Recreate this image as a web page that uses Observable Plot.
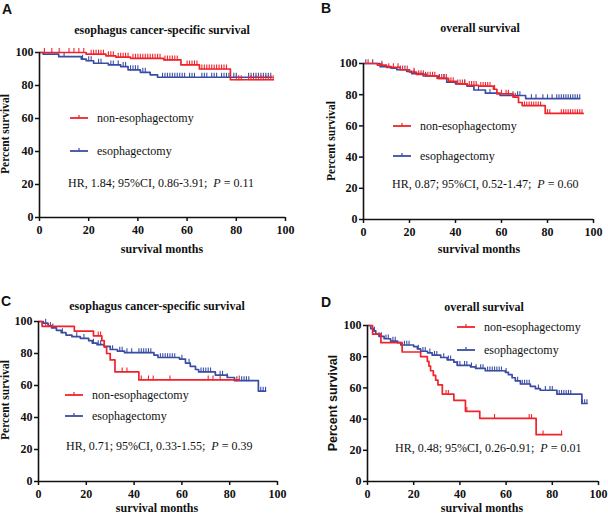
<!DOCTYPE html>
<html><head><meta charset="utf-8">
<script src="https://cdn.jsdelivr.net/npm/d3@7"></script>
<script src="https://cdn.jsdelivr.net/npm/@observablehq/plot@0.6"></script>
<style>
body{margin:0;background:#fff;}
#wrap{position:relative;width:608px;height:516px;overflow:hidden;font-family:"Liberation Serif","Times New Roman",serif;color:#111;}
.abs{position:absolute;white-space:nowrap;line-height:1;}
.letter{font-family:"Liberation Sans",Arial,sans-serif;font-weight:bold;font-size:14px;}
.title{font-weight:bold;font-size:12px;transform:translate(-50%,-50%);}
.xlab{font-weight:bold;font-size:12px;transform:translate(-50%,-50%);}
.ylab{font-weight:bold;font-size:11.5px;transform:translate(-50%,-50%) rotate(-90deg);}
.ylab.sans{font-family:"Liberation Sans",Arial,sans-serif;font-size:12.5px;}
.leg{font-size:12px;transform:translateY(-50%);}
.hr{font-size:12px;transform:translateY(-50%);}
.plot{position:absolute;}
.plot text{font-family:"Liberation Serif","Times New Roman",serif;}
</style>
</head><body>
<div id="wrap"></div>
<script>
const RED = "#f0232b", BLUE = "#3a4da5";
const xTicks = [0, 20, 40, 60, 80, 100];
const yTicks = [0, 20, 40, 60, 80, 100];
const seriesNames = ["non-esophagectomy", "esophagectomy"];

// Panel A: esophagus cancer-specific survival (upper)
const A_non_t = [0, 19, 27, 31, 37, 50.5, 57.5, 65, 77.6];
const A_non_s = [100, 99, 98, 97.2, 96.5, 95.5, 92.5, 90, 83.5];
const A_non_end = 95;
const A_non_cens = [2,5,8,12,14,16,18,21,22,23,24,25,26,28,29,30,32,33,34,35,36,38,39,40,41,42,43,44,45,46,47,48,49,51,52,53,54,55,56,60,61,62,63,64,66,67,68,69,70,71,72,73,74,75,76,80,81,82,85,86,87,88,89,90,91,92,93,94,95];
const A_eso_t = [0, 1.5, 7.8, 17, 19, 22, 28, 33, 36, 41, 45, 48];
const A_eso_s = [100, 99, 97.5, 96, 95, 93.5, 92.5, 91.5, 89.5, 88, 86.5, 85];
const A_eso_end = 94.5;
const A_eso_cens = [10,17.5,20,21,24,25,29,30,32,34,35,37,38,39,40,42,43,50,51,52,53,54,55,56,57,58,59,61,62,63,66,67,68,70,71,72,74,75,76,77,79,80,85,86,87,88,89,90,91,92,93,94];

// Panel B: overall survival (upper)
const B_non_t = [0, 6, 10, 16, 20, 23, 27.5, 32, 37, 40.5, 45, 50, 56.5, 58, 65, 67.4, 69, 79];
const B_non_s = [100, 99, 97.5, 96, 94.5, 93, 92, 90.5, 88.5, 87, 86, 85.5, 83.5, 80.5, 78.5, 75, 73, 68];
const B_non_end = 95.5;
const B_non_cens = [2,8,11,13,15,17,19,22,24,25,26,28,29,30,31,33,34,35,36,38,39,42,43,44,46,47,48,49,51,52,53,54,55,57,60,62,63,66,70,71,72,73,74,75,76,77,80,81,86,87,88,89,90,91,92,93,94,95];
const B_eso_t = [0, 7.2, 12, 14.5, 18.8, 21, 26, 32.6, 36.2, 40, 45, 48, 53, 59.4, 70.5];
const B_eso_s = [100, 98, 97, 96, 95, 93.5, 92, 90.5, 88, 87, 85.5, 83, 81, 79.5, 77.5];
const B_eso_end = 94;
const B_eso_cens = [1,4,8,16,18,22,27,33,35,41,44,50,55,63,65,67,68,73,75,78,80,82,84,85,86,87,88,89,90,91,92,93,94];

// Panel C: esophagus cancer-specific survival (lower)
const C_non_t = [0, 1.5, 15, 23, 26.5, 27.5, 28.5, 30, 32, 42];
const C_non_s = [100, 97, 94, 91, 88, 84, 80, 76, 68.5, 63.5];
const C_non_end = 84;
const C_non_cens = [3,5,25,26,35,37,43,46,48,55,71,73,76,84];
const C_eso_t = [0, 2, 4, 5.5, 7.5, 9.5, 11.5, 14, 17.5, 21, 22.5, 24.5, 27.5, 30, 33, 36, 48.3, 50, 59, 61.5, 63.5, 65.7, 67, 74, 79, 82, 92];
const C_eso_s = [100, 99, 97.5, 96, 94.5, 93, 91.5, 90.5, 89.5, 88, 86.5, 85.5, 84.5, 82.5, 81.5, 80.5, 79, 77.5, 76.5, 74, 72, 70, 68.5, 66.5, 65, 63, 56.5];
const C_eso_end = 95;
const C_eso_cens = [3,6,10,16,19,23,25,26,31,34,35,37,39,42,43,44,45,46,47,51,52,53,54,55,56,57,60,63,68,69,70,71,72,76,77,79,83,85,86,87,88,93,94,95];

// Panel D: overall survival (lower)
const D_non_t = [0, 2.2, 5.8, 15, 23, 25.9, 26.6, 27.3, 28.5, 29.5, 30.5, 32.4, 37.4, 42.4, 48.6, 73];
const D_non_s = [100, 94.5, 89, 83, 80, 77, 74, 71, 68, 65, 62, 56, 52, 45, 40.5, 30];
const D_non_end = 84;
const D_non_cens = [34,35,43,55,70,71,76,84];
const D_eso_t = [0, 1.4, 2.6, 3.6, 5, 7.2, 10, 13, 14.4, 20, 21.6, 23, 26, 28, 31.7, 34.5, 37.4, 38.8, 44.6, 46.8, 51, 59.7, 61, 62.6, 64, 66.2, 70.5, 72.7, 74.8, 82, 92.8];
const D_eso_s = [100, 98, 96.5, 94.5, 93, 91.5, 90, 89, 87.5, 86.5, 85, 83.5, 82.5, 81, 79.5, 78, 76.5, 74.5, 73.5, 72.5, 71, 70, 68.5, 66.5, 64.5, 62.5, 61, 59.5, 58.5, 56, 50];
const D_eso_end = 95;
const D_eso_cens = [3,5,6,8,9,11,12,16,17,18,22,24,25,27,29,30,33,35,36,39,40,42,43,45,47,49,50,52,53,54,55,56,57,58,60,65,67,68,69,70,74,77,79,80,83,84,85,86,87,88,93,94,95];

function curve(ts, ss, end, cens, color) {
  const pts = ts.map((t, i) => ({t, s: ss[i]}));
  pts.push({t: end, s: ss[ss.length - 1]});
  const at = t => { let v = ss[0]; for (let i = 0; i < ts.length; i++) if (ts[i] <= t) v = ss[i]; return v; };
  const c = cens.map(t => ({t, s: at(t)}));
  return {pts, c, color};
}

function panel(cfg) {
  const marks = [
    Plot.axisX({ticks: xTicks, tickSize: 4, tickPadding: 4, label: null, strokeWidth: 1.5, fontWeight: "bold"}),
    Plot.axisY({ticks: yTicks, tickSize: 4, tickPadding: 2, label: null, strokeWidth: 1.5, fontWeight: "bold"}),
  ];
  for (const cv of cfg.curves) {
    marks.push(Plot.line(cv.pts, {x: "t", y: "s", curve: "step-after", stroke: cv.color, strokeWidth: 1.7}));
    marks.push(Plot.ruleX(cv.c, {x: "t", y1: d => d.s - 0.6, y2: d => d.s + 2.4, stroke: cv.color, strokeWidth: 1.1}));
  }
  marks.push(Plot.ruleY([0], {stroke: "#111", strokeWidth: 1.6}));
  marks.push(Plot.ruleX([0], {stroke: "#111", strokeWidth: 1.6}));
  const svg = Plot.plot({
    width: cfg.w, height: cfg.h,
    marginLeft: cfg.ml, marginRight: cfg.mr, marginTop: cfg.mt, marginBottom: cfg.mb,
    x: {domain: [0, 100]},
    y: {domain: [0, 100]},
    style: {fontFamily: "'Liberation Serif', 'Times New Roman', serif", fontSize: "12px", color: "#111", background: "transparent", overflow: "visible"},
    marks
  });
  svg.classList.add("plot");
  svg.style.left = cfg.left + "px";
  svg.style.top = cfg.top + "px";
  return svg;
}

const wrap = document.getElementById("wrap");
function txt(cls, html, x, y) {
  const d = document.createElement("div");
  d.className = "abs " + cls;
  d.innerHTML = html;
  d.style.left = x + "px"; d.style.top = y + "px";
  wrap.appendChild(d);
}
function legendRow(x, y, color, label) {
  const d = document.createElement("div");
  d.className = "abs";
  d.style.left = x + "px"; d.style.top = (y - 4) + "px";
  d.innerHTML = `<svg width="18" height="8" style="display:block"><line x1="0" x2="18" y1="4" y2="4" stroke="${color}" stroke-width="1.8"/><line x1="9" x2="9" y1="1" y2="4" stroke="${color}" stroke-width="1.2"/></svg>`;
  wrap.appendChild(d);
  txt("leg", label, x + 27, y);
}

const panels = [
  {left: 0, top: 0, w: 300, h: 258, ml: 39, mr: 15, mt: 52, mb: 41,
   curves: [curve(A_eso_t, A_eso_s, A_eso_end, A_eso_cens, BLUE), curve(A_non_t, A_non_s, A_non_end, A_non_cens, RED)]},
  {left: 300, top: 0, w: 308, h: 258, ml: 63, mr: 15, mt: 63, mb: 39,
   curves: [curve(B_eso_t, B_eso_s, B_eso_end, B_eso_cens, BLUE), curve(B_non_t, B_non_s, B_non_end, B_non_cens, RED)]},
  {left: 0, top: 258, w: 300, h: 258, ml: 38, mr: 23, mt: 63, mb: 35,
   curves: [curve(C_eso_t, C_eso_s, C_eso_end, C_eso_cens, BLUE), curve(C_non_t, C_non_s, C_non_end, C_non_cens, RED)]},
  {left: 300, top: 258, w: 308, h: 258, ml: 67, mr: 10, mt: 67, mb: 35,
   curves: [curve(D_eso_t, D_eso_s, D_eso_end, D_eso_cens, BLUE), curve(D_non_t, D_non_s, D_non_end, D_non_cens, RED)]},
];
for (const p of panels) wrap.appendChild(panel(p));

// letters
txt("letter", "A", 2, 2); txt("letter", "B", 321, 1); txt("letter", "C", 1, 294); txt("letter", "D", 321, 295);
// titles
txt("title", "esophagus cancer-specific survival", 162, 30);
txt("title", "overall survival", 480, 28);
txt("title", "esophagus cancer-specific survival", 157, 306);
txt("title", "overall survival", 484, 307);
// axis labels
txt("xlab", "survival months", 162, 249); txt("xlab", "survival months", 479, 249);
txt("xlab", "survival months", 157, 508); txt("xlab", "survival months", 482, 508);
txt("ylab", "Percent survival", 6, 134); txt("ylab", "Percent survival", 332, 141);
txt("ylab", "Percent survival", 6, 400); txt("ylab sans", "Percent survival", 333, 403);
// legends
legendRow(70, 118, RED, seriesNames[0]); legendRow(70, 151, BLUE, seriesNames[1]);
legendRow(393, 126, RED, seriesNames[0]); legendRow(393, 156, BLUE, seriesNames[1]);
legendRow(65, 395, RED, seriesNames[0]); legendRow(65, 416, BLUE, seriesNames[1]);
legendRow(457, 327, RED, seriesNames[0]); legendRow(457, 350, BLUE, seriesNames[1]);
// stats
txt("hr", "HR, 1.84; 95%CI, 0.86-3.91;&nbsp; <i>P</i> = 0.11", 68, 183);
txt("hr", "HR, 0.87; 95%CI, 0.52-1.47;&nbsp; <i>P</i> = 0.60", 392, 184);
txt("hr", "HR, 0.71; 95%CI, 0.33-1.55;&nbsp; <i>P</i> = 0.39", 66, 446);
txt("hr", "HR, 0.48; 95%CI, 0.26-0.91;&nbsp; <i>P</i> = 0.01", 395, 448);
</script>
</body></html>
